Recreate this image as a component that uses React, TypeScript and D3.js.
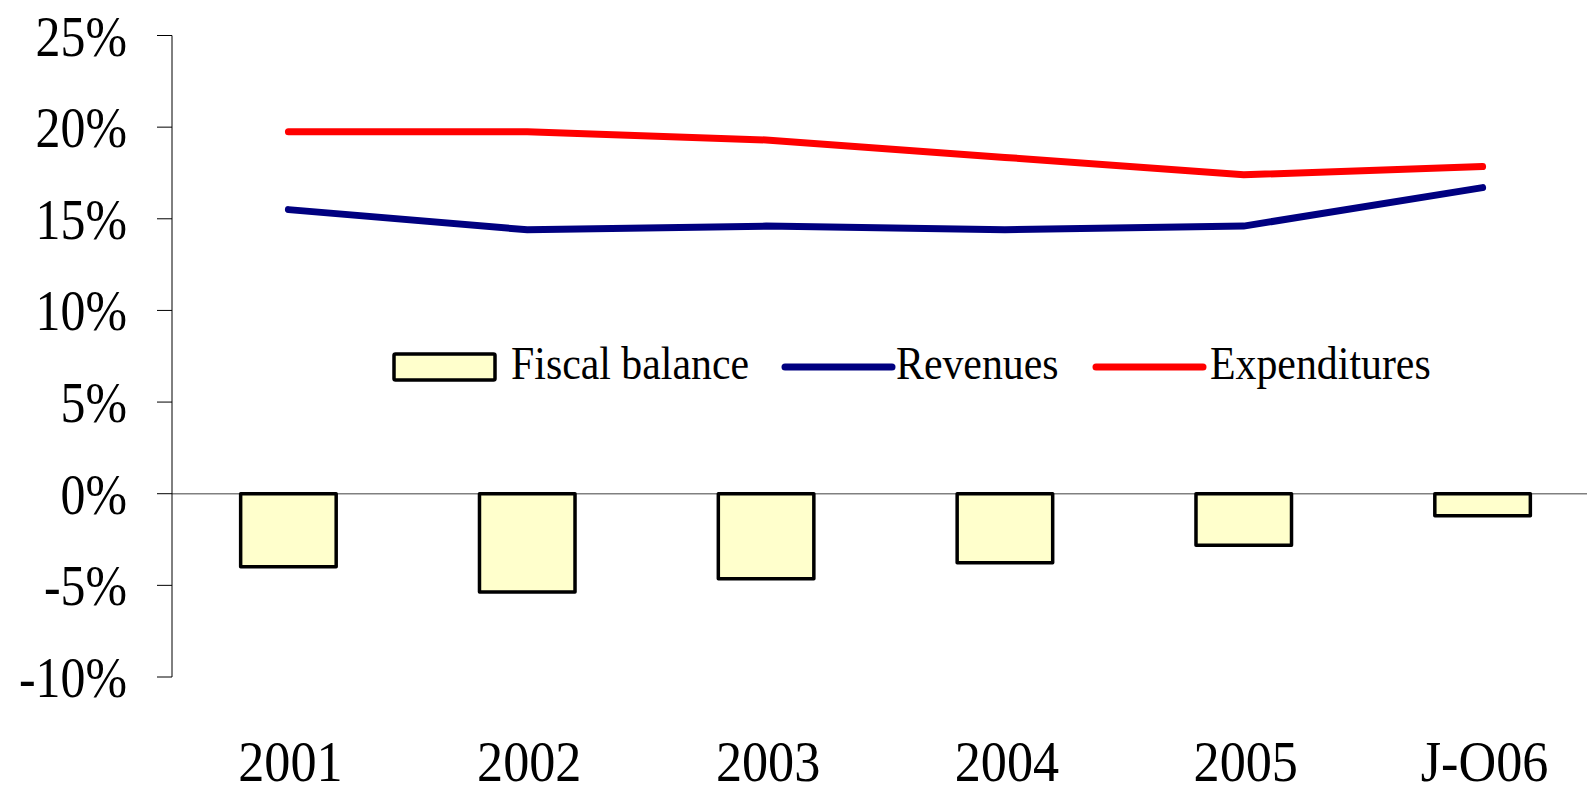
import React from 'react';
import * as d3 from 'd3';

const categories = ['2001', '2002', '2003', '2004', '2005', 'J-O06'];
const fiscalBalance = [-3.98, -5.36, -4.64, -3.76, -2.81, -1.2];
const revenues = [15.5, 14.4, 14.6, 14.4, 14.6, 16.7];
const expenditures = [19.75, 19.75, 19.3, 18.35, 17.4, 17.85];
const yTicks = [-10, -5, 0, 5, 10, 15, 20, 25];

const W = 1587;
const H = 785;
const FONT = '"Liberation Serif", "Times New Roman", serif';

export default function App() {
  // category bands run a little past the right edge, as in the original crop
  const x = d3.scaleBand<string>().domain(categories).range([169, 1602]).padding(0);
  const y = d3.scaleLinear().domain([-10, 25]).range([677, 35.5]);
  const axisX = 172;
  const barW = x.bandwidth() * 0.4;
  const cx = (c: string) => (x(c) as number) + x.bandwidth() / 2;

  const line = d3
    .line<number>()
    .x((_, i) => cx(categories[i]))
    .y((d) => y(d));

  const legend = [
    { type: 'bar', label: 'Fiscal balance', sx: 394, tx: 511 },
    { type: 'line', color: '#000080', label: 'Revenues', sx: 785, tx: 896 },
    { type: 'line', color: '#ff0000', label: 'Expenditures', sx: 1096, tx: 1210 },
  ];
  const legendY = 367;

  return (
    <svg
      width={W}
      height={H}
      style={{ position: 'absolute', left: 0, top: 0, background: '#fff' }}
      fontFamily={FONT}
    >
      {/* zero line */}
      <line x1={axisX} x2={W} y1={y(0)} y2={y(0)} stroke="#808080" strokeWidth={1.5} />

      {/* bars */}
      {fiscalBalance.map((v, i) => (
        <rect
          key={categories[i]}
          x={cx(categories[i]) - barW / 2}
          y={y(Math.max(0, v))}
          width={barW}
          height={Math.abs(y(v) - y(0))}
          fill="#ffffcc"
          stroke="#000"
          strokeWidth={3.5}
          strokeLinejoin="round"
        />
      ))}

      {/* y axis */}
      <line x1={axisX} x2={axisX} y1={y(25)} y2={y(-10)} stroke="#000" strokeWidth={1} />
      {yTicks.map((t) => (
        <g key={t}>
          <line x1={axisX - 15} x2={axisX} y1={y(t)} y2={y(t)} stroke="#000" strokeWidth={1} />
          <text
            transform={`translate(127,${y(t) + 20}) scale(0.86,1)`}
            textAnchor="end"
            fontSize={58}
            fill="#000"
          >
            {t}%
          </text>
        </g>
      ))}

      {/* x labels */}
      {categories.map((c) => (
        <text
          key={c}
          transform={`translate(${cx(c) + 2},781) scale(0.9,1)`}
          textAnchor="middle"
          fontSize={58}
          fill="#000"
        >
          {c}
        </text>
      ))}

      {/* lines */}
      <path d={line(revenues) || ''} fill="none" stroke="#000080" strokeWidth={7} strokeLinecap="round" />
      <path d={line(expenditures) || ''} fill="none" stroke="#ff0000" strokeWidth={7} strokeLinecap="round" />

      {/* legend */}
      {legend.map((l) => (
        <g key={l.label}>
          {l.type === 'bar' ? (
            <rect
              x={l.sx}
              y={legendY - 13}
              width={101}
              height={26}
              fill="#ffffcc"
              stroke="#000"
              strokeWidth={3.5}
              rx={1.5}
            />
          ) : (
            <line
              x1={l.sx}
              x2={l.sx + 107}
              y1={legendY}
              y2={legendY}
              stroke={l.color}
              strokeWidth={7}
              strokeLinecap="round"
            />
          )}
          <text
            transform={`translate(${l.tx},${legendY + 12}) scale(0.89,1)`}
            fontSize={47}
            fill="#000"
          >
            {l.label}
          </text>
        </g>
      ))}
    </svg>
  );
}
